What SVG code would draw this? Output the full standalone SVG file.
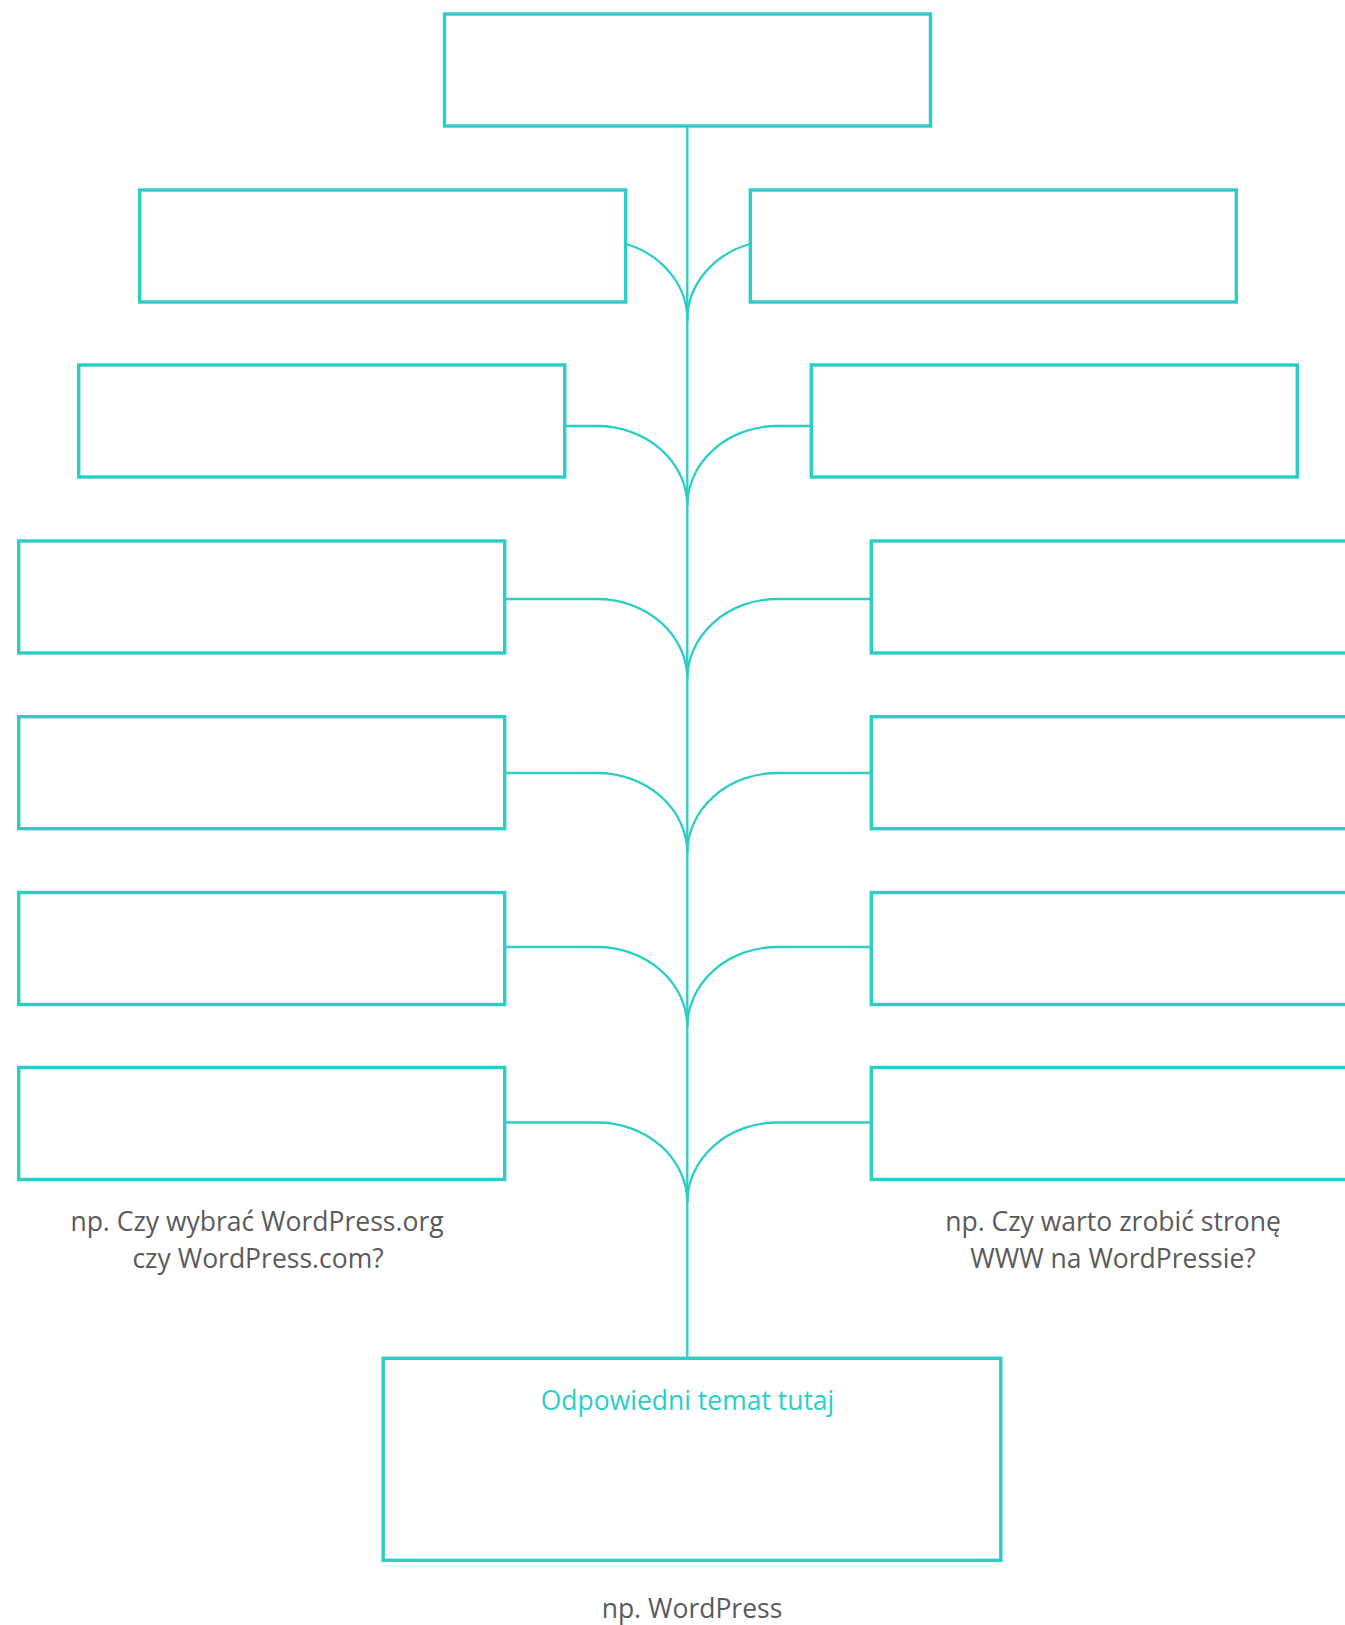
<svg xmlns="http://www.w3.org/2000/svg" width="1345" height="1625" viewBox="0 0 1345 1625">
<style>
.box{fill:#fff;stroke:#2bcdc7;stroke-width:3.4}
.con{fill:none;stroke:#2bcdc7;stroke-width:2.3}
.lbl{font-family:"Open Sans","Liberation Sans",sans-serif;font-size:26.5px;fill:#5a5a5a;text-anchor:middle}
.title{font-family:"Open Sans","Liberation Sans",sans-serif;font-size:26.5px;fill:#2bcdc7;text-anchor:middle}
</style>
<rect width="1345" height="1625" fill="#fff"/>
<g id="connectors">
<path class="con" d="M687.3 126 V1358"/>
<path class="con" d="M626 244 A90 80 0 0 1 687.3 321"/>
<path class="con" d="M750 244 A90 80 0 0 0 687.3 321"/>
<path class="con" d="M565 426 H597 A90 80 0 0 1 687.3 506"/>
<path class="con" d="M811 426 H777 A90 80 0 0 0 687.3 506"/>
<path class="con" d="M505 599 H597 A90 80 0 0 1 687.3 679"/>
<path class="con" d="M871 599 H777 A90 80 0 0 0 687.3 679"/>
<path class="con" d="M505 773 H597 A90 80 0 0 1 687.3 853"/>
<path class="con" d="M871 773 H777 A90 80 0 0 0 687.3 853"/>
<path class="con" d="M505 947 H597 A90 80 0 0 1 687.3 1027"/>
<path class="con" d="M871 947 H777 A90 80 0 0 0 687.3 1027"/>
<path class="con" d="M505 1122.5 H597 A90 80 0 0 1 687.3 1202.5"/>
<path class="con" d="M871 1122.5 H777 A90 80 0 0 0 687.3 1202.5"/>
</g>
<g id="top"><rect class="box" x="444.5" y="14" width="486" height="112"/></g>
<g id="l1"><rect class="box" x="139.7" y="190" width="486" height="112"/></g>
<g id="r1"><rect class="box" x="750.3" y="190" width="486" height="112"/></g>
<g id="l2"><rect class="box" x="78.7" y="365" width="486" height="112"/></g>
<g id="r2"><rect class="box" x="811.3" y="365" width="486" height="112"/></g>
<g id="l3"><rect class="box" x="18.7" y="541" width="486" height="112"/></g>
<g id="r3"><rect class="box" x="871.3" y="541" width="486" height="112"/></g>
<g id="l4"><rect class="box" x="18.7" y="716.7" width="486" height="112"/></g>
<g id="r4"><rect class="box" x="871.3" y="716.7" width="486" height="112"/></g>
<g id="l5"><rect class="box" x="18.7" y="892.5" width="486" height="112"/></g>
<g id="r5"><rect class="box" x="871.3" y="892.5" width="486" height="112"/></g>
<g id="l6"><rect class="box" x="18.7" y="1067.5" width="486" height="112"/></g>
<g id="r6"><rect class="box" x="871.3" y="1067.5" width="486" height="112"/></g>
<g id="bottom">
<rect class="box" x="383.2" y="1358.3" width="617.6" height="202"/>
<text class="title" x="687.5" y="1410">Odpowiedni temat tutaj</text>
</g>
<g id="labels">
<text class="lbl" x="257" y="1230.5">np. Czy wybrać WordPress.org</text>
<text class="lbl" x="258" y="1268">czy WordPress.com?</text>
<text class="lbl" x="1113" y="1230.5">np. Czy warto zrobić stronę</text>
<text class="lbl" x="1113" y="1268">WWW na WordPressie?</text>
<text class="lbl" x="692" y="1618">np. WordPress</text>
</g>
</svg>
